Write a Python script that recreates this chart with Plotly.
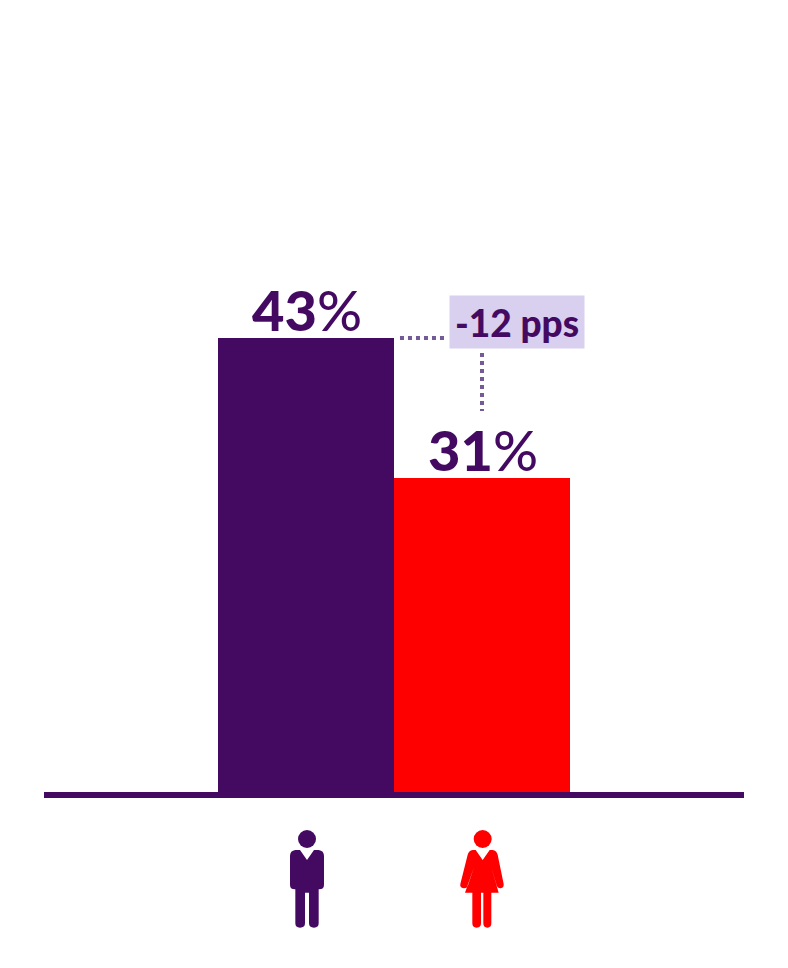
import plotly.graph_objects as go

categories = ["Men", "Women"]
values = [43, 31]
gap_label = "-12 pps"

PURPLE = "#440a62"
RED = "#ff0000"
DOT = "#725b97"
PILL = "#d9cfee"
FONT = "Lato"

# plot-area geometry (pixels)
L, R, T, B = 44, 744, 0, 792
W, H = 788, 968
px_per_unit = (478 - 338) / (values[0] - values[1])
y_low = values[0] - (B - 338) / px_per_unit
y_high = values[0] + (338 - T) / px_per_unit
cat_w = 176
x_low = -0.5 - (218 - L) / cat_w
x_high = 1.5 + (R - 570) / cat_w


def icon_path(cmds, ax):
    """Icon outline traced in 3x crop units, converted to pixels from anchor."""
    out = []
    for c in cmds:
        op, nums = c[0], c[1:]
        pts = []
        for i in range(0, len(nums), 2):
            pts.append(f"{(nums[i] - ax) / 3:.2f},{(36 - nums[i + 1]) / 3:.2f}")
        out.append(op + " ".join(pts))
    return " ".join(out) + " Z"


man = [
    ("M", 90, 210), ("L", 111, 240), ("L", 132, 210), ("L", 146, 210),
    ("Q", 162, 212, 162, 228), ("L", 162, 314), ("Q", 162, 328, 148, 328),
    ("L", 146, 328), ("L", 146, 430), ("Q", 146, 443, 132, 443),
    ("Q", 117, 443, 117, 430), ("L", 117, 338), ("L", 105, 338), ("L", 105, 430),
    ("Q", 105, 443, 90, 443), ("Q", 76, 443, 76, 430), ("L", 76, 328),
    ("L", 74, 328), ("Q", 60, 328, 60, 314), ("L", 60, 228),
    ("Q", 60, 212, 76, 210),
]
woman = [
    ("M", 617, 210), ("L", 638, 240), ("L", 659, 210), ("L", 668, 210),
    ("Q", 680, 212, 683, 224), ("L", 701, 312), ("Q", 702, 323, 692, 325),
    ("Q", 683, 326, 680, 316), ("L", 664, 262), ("L", 686, 338), ("L", 664, 338),
    ("L", 664, 430), ("Q", 664, 443, 652, 443), ("Q", 640, 443, 640, 430),
    ("L", 640, 338), ("L", 633, 338), ("L", 633, 430), ("Q", 633, 443, 620, 443),
    ("Q", 607, 443, 607, 430), ("L", 607, 338), ("L", 585, 338), ("L", 612, 262),
    ("L", 594, 316), ("Q", 591, 326, 581, 325), ("Q", 569, 323, 571, 312),
    ("L", 593, 224), ("Q", 596, 212, 608, 210),
]


def head(ax, idx, color, cx):
    r = 27
    return dict(type="circle", xref="x", yref="paper", xsizemode="pixel", ysizemode="pixel",
                xanchor=idx, yanchor=0, x0=(cx - r - ax) / 3, x1=(cx + r - ax) / 3,
                y0=(36 - 204) / 3, y1=(36 - 150) / 3, fillcolor=color, line_width=0)


def body(cmds, ax, idx, color):
    return dict(type="path", xref="x", yref="paper", xsizemode="pixel", ysizemode="pixel",
                xanchor=idx, yanchor=0, path=icon_path(cmds, ax), fillcolor=color, line_width=0)


fig = go.Figure(go.Bar(
    x=categories, y=values,
    marker=dict(color=[PURPLE, RED], line_width=0),
    hoverinfo="skip", showlegend=False,
))

hline_x = (0.534, 0.784)
vline_y = (values[0] - 15 / px_per_unit, values[0] - 73 / px_per_unit)
dotted = dict(color=DOT, width=4, dash="4px,4px")

shapes = [
    dict(type="line", xref="x", yref="y", x0=hline_x[0], x1=hline_x[1],
         y0=values[0], y1=values[0], line=dotted),
    dict(type="line", xref="x", yref="y", x0=1, x1=1,
         y0=vline_y[0], y1=vline_y[1], line=dotted),
    head(108, 0, PURPLE, 111), body(man, 108, 0, PURPLE),
    head(636, 1, RED, 638), body(woman, 636, 1, RED),
]

value_labels = [
    dict(x=i, y=v, xref="x", yref="y", showarrow=False, yanchor="bottom",
         xshift=1, yshift=-6.5,
         text=f"<span style='font-weight:900'>{v}</span><span style='font-weight:500'>%</span>",
         font=dict(family=FONT, size=56, color=PURPLE))
    for i, v in enumerate(values)
]

fig.update_layout(
    width=W, height=H, autosize=False,
    margin=dict(l=L, r=W - R, t=T, b=H - B, pad=0),
    paper_bgcolor="white", plot_bgcolor="white",
    bargap=0, shapes=shapes,
    xaxis=dict(type="category", range=[x_low, x_high], showgrid=False, zeroline=False,
               showticklabels=False, ticks="", showline=True, linecolor=PURPLE, linewidth=6),
    yaxis=dict(range=[y_low, y_high], visible=False),
    annotations=value_labels + [dict(
        x=(517 - 306) / cat_w, y=values[0] + (338 - 322) / px_per_unit,
        xref="x", yref="y", showarrow=False,
        text=f"<span style='font-weight:900'>{gap_label}</span>",
        font=dict(family=FONT, size=37, color=PURPLE),
        bgcolor=PILL, width=134, height=52, borderpad=0, align="center", valign="middle",
    )],
)

fig.write_html(
    "out.html", config={"displayModeBar": False},
    post_script="document.body.style.margin='0';document.body.style.overflow='hidden';",
)
